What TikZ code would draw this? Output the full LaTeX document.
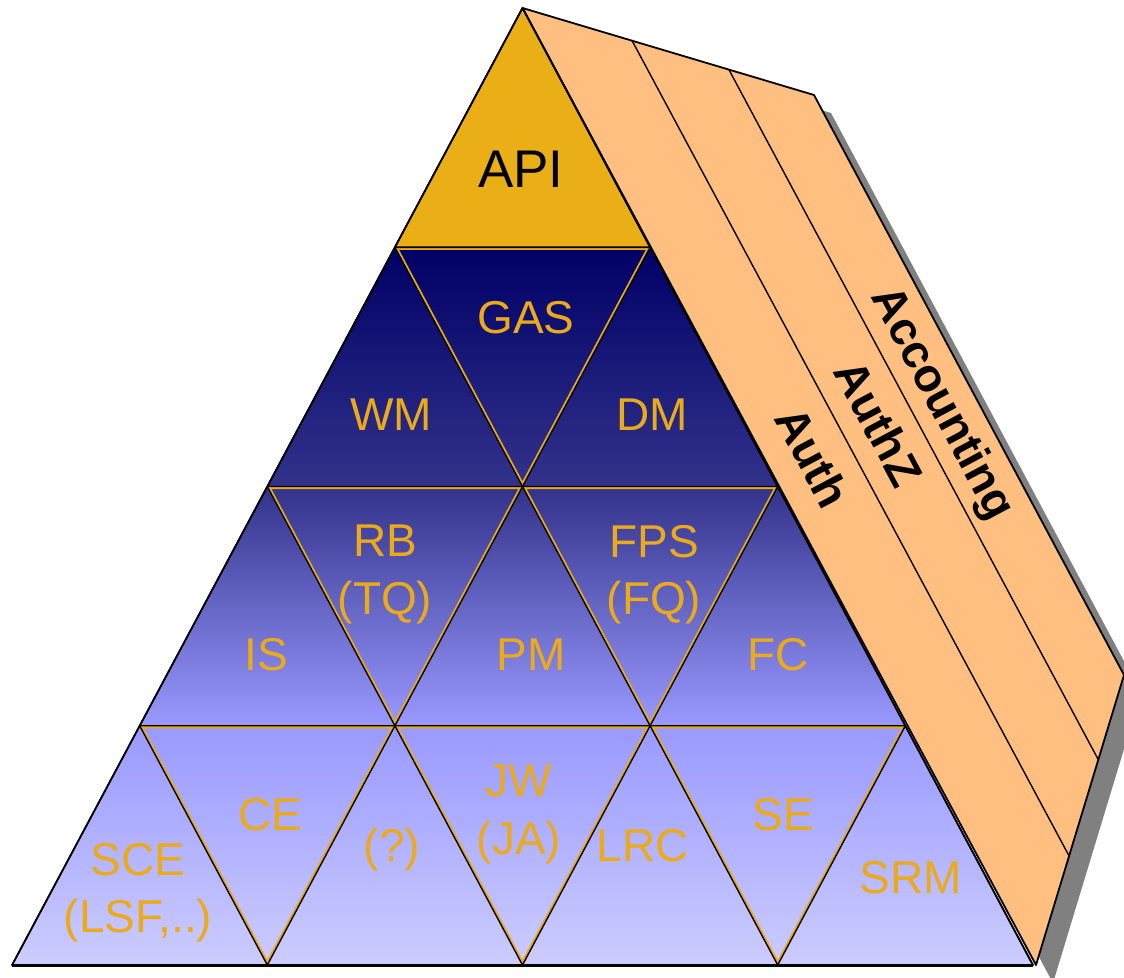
\documentclass[tikz,border=0pt]{standalone}
\usepackage{fontspec}
\setmainfont{Liberation Sans}
\usetikzlibrary{calc}

\definecolor{roofpeach}{HTML}{FFBF80}
\definecolor{apigold}{HTML}{EAAF17}
\definecolor{labelgold}{HTML}{EBAA1A}
\definecolor{shadowgray}{HTML}{808080}
\definecolor{navytop}{HTML}{000066}
\definecolor{navymid}{HTML}{33338C}
\definecolor{lavmid}{HTML}{9999FF}
\definecolor{lavlight}{HTML}{CCCCFF}

% vertical fill of the lower three tiers: the middle 50bp span covers the tiers
\pgfdeclareverticalshading{tierfill}{100bp}{%
  color(0bp)=(lavlight); color(25bp)=(lavlight);
  color(41.67bp)=(lavmid); color(58.19bp)=(navymid);
  color(75bp)=(navytop); color(100bp)=(navytop)}

\tikzset{
  gridline/.style={black, line width=1.4pt, line join=round},
  roofline/.style={black, line width=1.4pt},
  lbl/.style={text=labelgold, font=\fontsize{46}{57.5}\selectfont,
    inner sep=0pt, align=center},
  stripname/.style={font=\bfseries\fontsize{46.5}{50}\selectfont,
    rotate=-61.9, inner sep=0pt}
}

\begin{document}
\begin{tikzpicture}[x=1pt, y=-1pt]
\useasboundingbox (0,0) rectangle (1124,977);

% lattice points of the pyramid: row k, point j
\foreach \k in {0,...,4}{
  \foreach \j in {0,...,\k}{
    \coordinate (p\k\j) at ({522.5+127.6*(2*\j-\k)}, {8+239.25*\k});
  }
}

% roof corners
\coordinate (r1) at (522.5,8);
\coordinate (r2) at (814,95);
\coordinate (r3) at (1124,675);
\coordinate (r4) at (1036,965);

% roof shadow
\fill[shadowgray] ([shift={(17,18)}]r1) -- ([shift={(17,18)}]r2)
  -- ([shift={(17,18)}]r3) -- ([shift={(17,18)}]r4) -- cycle;

% roof and its three strips
\filldraw[fill=roofpeach, draw=black, line width=1.8pt, line join=round]
  (r1) -- (r2) -- (r3) -- (r4) -- cycle;
\draw[roofline] ($(r1)!0.376!(r2)$) coordinate (s1t) -- ($(r4)!0.376!(r3)$) coordinate (s1b);
\draw[roofline] ($(r1)!0.708!(r2)$) coordinate (s2t) -- ($(r4)!0.708!(r3)$) coordinate (s2b);

% lower three tiers
\path[shading=tierfill] (p10) -- (p11) -- (p44) -- (p40) -- cycle;

% inverted triangles carry a gold rim
\foreach \a/\b/\c in {p10/p11/p21, p20/p21/p31, p21/p22/p32,
                      p30/p31/p41, p31/p32/p42, p32/p33/p43}{
  \begin{scope}
    \clip (\a) -- (\b) -- (\c) -- cycle;
    \draw[labelgold, line width=5pt, line join=round] (\a) -- (\b) -- (\c) -- cycle;
  \end{scope}
}

% upright triangles carry a black rim
\foreach \a/\b/\c in {p10/p20/p21, p11/p21/p22,
                      p20/p30/p31, p21/p31/p32, p22/p32/p33,
                      p30/p40/p41, p31/p41/p42, p32/p42/p43, p33/p43/p44}{
  \draw[gridline] (\a) -- (\b) -- (\c) -- cycle;
}

% top tier
\filldraw[fill=apigold, draw=black, line width=1.6pt, line join=round]
  (p00) -- (p10) -- (p11) -- cycle;

% outer outline of the pyramid
\draw[black, line width=1.8pt, line join=round] (p00) -- (p40) -- (p44) -- cycle;
\draw[black, line width=3pt] (p40) -- (p44);

% tier labels
\node[inner sep=0pt, font=\fontsize{53}{60}\selectfont] (api) at (521,169) {API};
\node[lbl] (gas) at (526,318) {GAS};
\node[lbl] (wm)  at (391,415) {WM};
\node[lbl] (dm)  at (652,415) {DM};
\node[lbl, anchor=north] (rb)  at (385,525) {RB\\(TQ)};
\node[lbl, anchor=north] (fps) at (654,525) {FPS\\(FQ)};
\node[lbl] (is)  at (266,655) {IS};
\node[lbl] (pm)  at (531,655) {PM};
\node[lbl] (fc)  at (778,655) {FC};
\node[lbl, anchor=north] (sce) at (138,843) {SCE\\(LSF,..)};
\node[lbl] (ce)  at (270,815) {CE};
\node[lbl] (unk) at (392,850) {(?)};
\node[lbl, anchor=north] (jw)  at (519,765) {JW\\(JA)};
\node[lbl] (lrc) at (643,846) {LRC};
\node[lbl] (se)  at (783,815) {SE};
\node[lbl] (srm) at (911,878) {SRM};

% strip labels
\node[stripname] (auth)  at (813,457) {Auth};
\node[stripname] (authz) at (879,423) {AuthZ};
\node[stripname] (acct)  at (941,404) {Accounting};
\end{tikzpicture}
\end{document}
